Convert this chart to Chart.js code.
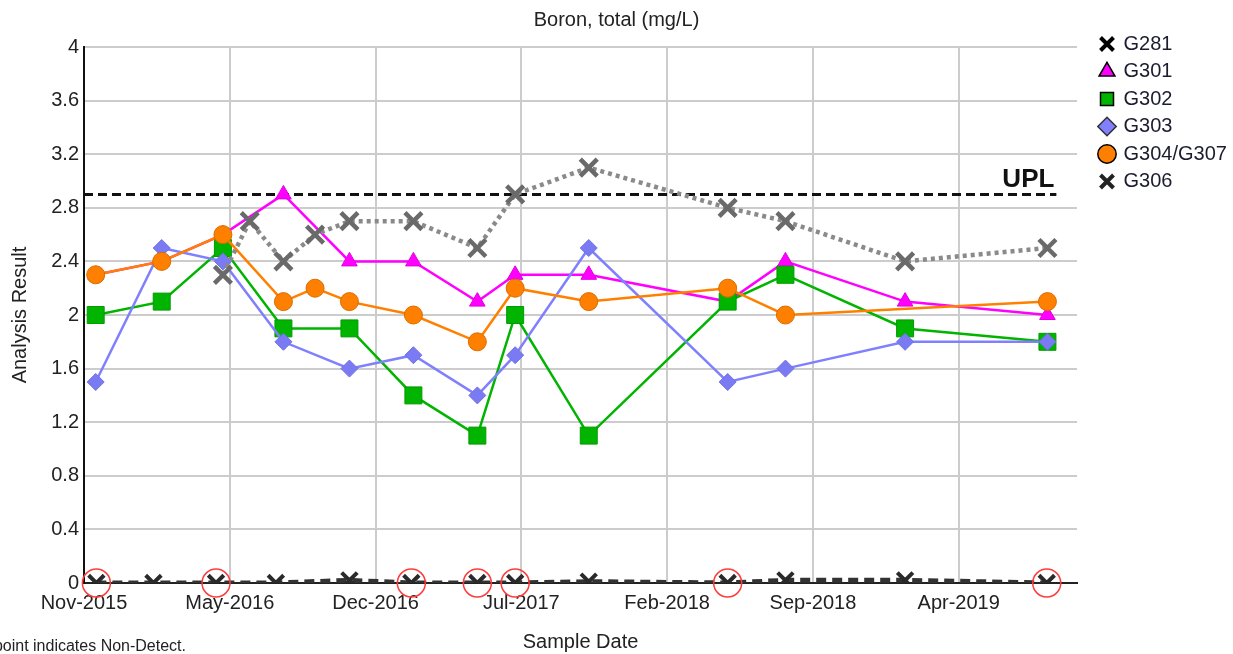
<!DOCTYPE html>
<html>
<head>
<meta charset="utf-8">
<title>Boron, total (mg/L)</title>
<script src="https://cdn.jsdelivr.net/npm/chart.js@4/dist/chart.umd.min.js"></script>
<style>
    html, body { margin: 0; padding: 0; background: #fff; overflow: hidden; }
    #wrap { position: relative; width: 1233px; height: 654px; }
    #footnote {
        position: absolute; right: 1047px; top: 637px;
        font: 16px 'Liberation Sans', Arial, sans-serif; color: #222;
        white-space: nowrap;
    }
</style>
</head>
<body>
<div id="wrap">
    <canvas id="chart" width="1233" height="654"></canvas>
    <div id="footnote">A red circle around a data point indicates Non-Detect.</div>
</div>
<script>
/* Boron time series — one line per well, UPL reference, non-detect circles */

const FONT       = "'Liberation Sans', Arial, sans-serif";
const AXIS_START = '2015-11-01';
const TICK_DAYS  = 212;   // spacing of the date gridlines
const X_MAX_DAYS = 1444;

// ── Data ───────────────────────────────────────────────────────────────────
const xTickLabels = ['Nov-2015', 'May-2016', 'Dec-2016', 'Jul-2017', 'Feb-2018', 'Sep-2018', 'Apr-2019'];

const wellDates = ['2015-11-18', '2016-02-22', '2016-05-21', '2016-08-17', '2016-11-21', '2017-02-22',
                   '2017-05-26', '2017-07-20', '2017-11-04', '2018-05-25', '2018-08-17', '2019-02-07', '2019-09-02'];
const g301 = [2.3, 2.4, 2.6, 2.9, 2.4, 2.4, 2.1, 2.3, 2.3, 2.1, 2.4, 2.1, 2.0];
const g302 = [2.0, 2.1, 2.5, 1.9, 1.9, 1.4, 1.1, 2.0, 1.1, 2.1, 2.3, 1.9, 1.8];
const g303 = [1.5, 2.5, 2.4, 1.8, 1.6, 1.7, 1.4, 1.7, 2.5, 1.5, 1.6, 1.8, 1.8];

const g304Dates = ['2015-11-18', '2016-02-22', '2016-05-21', '2016-08-17', '2016-10-02', '2016-11-21', '2017-02-22',
                   '2017-05-26', '2017-07-20', '2017-11-04', '2018-05-25', '2018-08-17', '2019-09-02'];
const g304 = [2.3, 2.4, 2.6, 2.1, 2.2, 2.1, 2.0, 1.8, 2.2, 2.1, 2.2, 2.0, 2.1];

const g306Dates = ['2016-05-21', '2016-06-29', '2016-08-17', '2016-10-02', '2016-11-21', '2017-02-22',
                   '2017-05-26', '2017-07-20', '2017-11-04', '2018-05-25', '2018-08-17', '2019-02-07', '2019-09-02'];
const g306 = [2.3, 2.7, 2.4, 2.6, 2.7, 2.7, 2.5, 2.9, 3.1, 2.8, 2.7, 2.4, 2.5];

const g281Dates = ['2015-11-19', '2016-02-10', '2016-05-11', '2016-08-06', '2016-11-21', '2017-02-19',
                   '2017-05-26', '2017-07-20', '2017-11-04', '2018-05-25', '2018-08-17', '2019-02-07', '2019-09-01'];
const g281          = [0, 0, 0, 0, 0.02, 0, 0, 0, 0.01, 0, 0.02, 0.02, 0];
const g281NonDetect = [1, 0, 1, 0, 0,    1, 1, 1, 0,    1, 0,    0,    1];

const uplDates = ['2015-11-01', '2019-09-15'];
const uplValue = 2.9;

// ── Helpers ────────────────────────────────────────────────────────────────
const dayOf = d => (Date.parse(d) - Date.parse(AXIS_START)) / 86400000;
const pts   = (dates, vals) => dates.map((d, i) => ({ x: dayOf(d), y: vals[i] }));

const ndPoints = g281Dates
    .map((d, i) => ({ x: dayOf(d), y: g281[i], nd: g281NonDetect[i] }))
    .filter(p => p.nd)
    .map(p => ({ x: p.x, y: p.y }));

const uplPoints = uplDates.map(d => ({ x: dayOf(d), y: uplValue }));

// ── Datasets ───────────────────────────────────────────────────────────────
const datasets = [
    {
        label: 'G281', data: pts(g281Dates, g281), order: 6, clip: 0,
        borderColor: '#333', borderWidth: 5, borderDash: [10, 6],
        pointStyle: 'crossRot', pointRadius: 11, pointBorderWidth: 4, pointBorderColor: '#2a2a2a',
        inLegend: true, legendFill: '#000', legendStroke: '#000', legendLine: 4
    },
    {
        label: 'G301', data: pts(wellDates, g301), order: 5,
        borderColor: '#ff00ff', borderWidth: 2.5,
        pointStyle: 'triangle', pointRadius: 9, pointBackgroundColor: '#ff00ff', pointBorderColor: '#e000e0', pointBorderWidth: 1,
        inLegend: true, legendFill: '#ff00ff', legendStroke: '#000', legendLine: 1.5
    },
    {
        label: 'G302', data: pts(wellDates, g302), order: 4,
        borderColor: '#00b400', borderWidth: 2.5,
        pointStyle: 'rect', pointRadius: 12, pointBackgroundColor: '#00b400', pointBorderColor: '#009c00', pointBorderWidth: 1,
        inLegend: true, legendFill: '#00b400', legendStroke: '#000', legendLine: 1.5
    },
    {
        label: 'G303', data: pts(wellDates, g303), order: 3,
        borderColor: '#8080ff', borderWidth: 2.5,
        pointStyle: 'rectRot', pointRadius: 8.5, pointBackgroundColor: '#7a7af2', pointBorderColor: '#7070e6', pointBorderWidth: 1,
        inLegend: true, legendFill: '#8080ff', legendStroke: '#333', legendLine: 1.5
    },
    {
        label: 'G304/G307', data: pts(g304Dates, g304), order: 2,
        borderColor: '#ff8000', borderWidth: 2.5,
        pointStyle: 'circle', pointRadius: 9, pointBackgroundColor: '#ff8000', pointBorderColor: '#d86c00', pointBorderWidth: 1,
        inLegend: true, legendFill: '#ff8000', legendStroke: '#000', legendLine: 1.5
    },
    {
        label: 'G306', data: pts(g306Dates, g306), order: 1,
        borderColor: '#8a8a8a', borderWidth: 4.5, borderDash: [4, 4],
        pointStyle: 'crossRot', pointRadius: 12, pointBorderWidth: 4.5, pointBorderColor: '#6a6a6a',
        inLegend: true, legendFill: '#222', legendStroke: '#222', legendLine: 4
    },
    {
        label: 'UPL', data: uplPoints, order: 7,
        borderColor: '#111', borderWidth: 3, borderDash: [9, 5], pointRadius: 0
    },
    {
        label: 'Non-Detect', data: ndPoints, order: 0, showLine: false, clip: false,
        pointStyle: 'circle', pointRadius: 14, pointBackgroundColor: 'rgba(0,0,0,0)',
        pointBorderColor: '#ff3b3b', pointBorderWidth: 1.5
    }
];

// ── Plugins ────────────────────────────────────────────────────────────────
const legendPlacement = {
    id: 'legendPlacement',
    beforeUpdate(chart) {
        const lg = chart.legend;
        if (lg && !lg._fixedFit) {
            const fit = lg.fit;
            lg.fit = function () { fit.call(this); this.width = 156; };
            lg._fixedFit = true;
        }
    },
    afterLayout(chart) {
        chart.legend.left = 1093;
        chart.legend.top  = 26.5;
    }
};

const uplLabel = {
    id: 'uplLabel',
    afterDatasetsDraw(chart) {
        const { ctx, scales: { x, y } } = chart;
        ctx.save();
        ctx.font = `bold 26px ${FONT}`;
        ctx.fillStyle = '#111';
        ctx.textAlign = 'right';
        ctx.textBaseline = 'alphabetic';
        ctx.fillText('UPL', x.getPixelForValue(dayOf(uplDates[1])) - 2, y.getPixelForValue(uplValue) - 7);
        ctx.restore();
    }
};

// ── Chart ──────────────────────────────────────────────────────────────────
new Chart(document.getElementById('chart'), {
    type: 'line',
    data: { datasets },
    plugins: [legendPlacement, uplLabel],
    options: {
        responsive: false,
        animation: false,
        events: [],
        layout: { padding: 0 },
        plugins: {
            title: {
                display: true, text: 'Boron, total (mg/L)', color: '#222',
                font: { family: FONT, size: 20, weight: 'normal' },
                padding: { top: 8, bottom: 15 }
            },
            legend: {
                position: 'right', align: 'start',
                labels: {
                    usePointStyle: true, boxWidth: 13, boxHeight: 13, padding: 7.5,
                    color: '#1c1c30', font: { family: FONT, size: 20 },
                    generateLabels: chart => chart.data.datasets
                        .map((ds, i) => ds.inLegend ? {
                            text: ds.label, datasetIndex: i, pointStyle: ds.pointStyle, rotation: 0,
                            fillStyle: ds.legendFill, strokeStyle: ds.legendStroke, lineWidth: ds.legendLine,
                            fontColor: '#1c1c30', hidden: false
                        } : null)
                        .filter(Boolean)
                }
            },
            tooltip: { enabled: false }
        },
        scales: {
            x: {
                type: 'linear', min: 0, max: X_MAX_DAYS, bounds: 'data',
                afterFit: s => { s.height = 71; },
                // one gridline per label, every TICK_DAYS days from the axis start
                afterBuildTicks: s => { s.ticks = xTickLabels.map((_, i) => ({ value: i * TICK_DAYS })); },
                border: { display: true, color: '#222', width: 2 },
                grid: { color: '#cccccc', lineWidth: 2, drawTicks: false },
                ticks: {
                    autoSkip: false, maxRotation: 0,
                    padding: 8, color: '#222', font: { family: FONT, size: 20 },
                    callback: v => xTickLabels[Math.round(v / TICK_DAYS)] ?? ''
                },
                title: {
                    display: true, text: 'Sample Date', color: '#222',
                    font: { family: FONT, size: 20 }, padding: { top: 0, bottom: 0 }
                }
            },
            y: {
                min: 0, max: 4,
                afterFit: s => { s.width = 84; },
                border: { display: true, color: '#111', width: 2 },
                grid: { color: '#cccccc', lineWidth: 2, drawTicks: false },
                ticks: {
                    stepSize: 0.4, padding: 5, color: '#222', font: { family: FONT, size: 20 },
                    callback: v => String(+v.toFixed(1))
                },
                title: {
                    display: true, text: 'Analysis Result', color: '#222',
                    font: { family: FONT, size: 20 }, padding: { top: 8, bottom: 0 }
                }
            }
        }
    }
});
</script>
</body>
</html>
